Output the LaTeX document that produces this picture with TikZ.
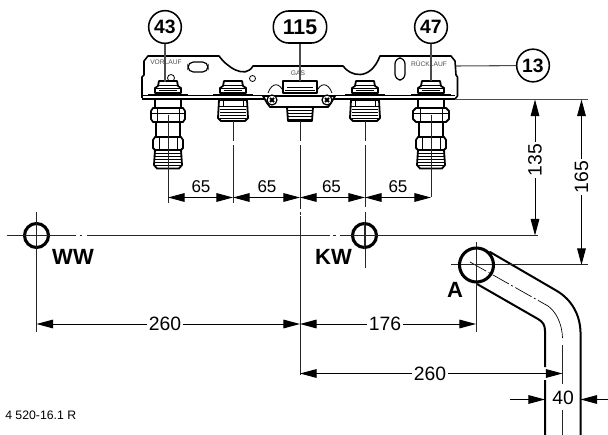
\documentclass[tikz,border=0pt]{standalone}
\usepackage{fontspec}
\setmainfont{Liberation Sans}
\usetikzlibrary{arrows.meta}
\tikzset{
  x=0.75pt,y=-0.75pt,
  part/.style={line width=1.35pt,line join=round},
  thin part/.style={line width=0.6pt},
  axis/.style={line width=0.75pt,black!85},
  leader/.style={line width=0.8pt,black!70},
  dim/.style={line width=0.75pt,{Triangle[length=12.5pt,width=6.5pt]}-{Triangle[length=12.5pt,width=6.5pt]}},
  dimr/.style={line width=0.75pt,-{Triangle[length=12.5pt,width=6.5pt]}},
  callout/.style={circle,draw,line width=1.15pt,minimum size=24.5pt,inner sep=0pt,font=\fontsize{14.5}{15}\selectfont\bfseries},
  pill/.style={rounded corners=11.5pt,draw,line width=1.15pt,minimum width=40pt,minimum height=24pt,inner sep=0pt,font=\fontsize{16}{17}\selectfont\bfseries},
  hole/.style={circle,draw,line width=2.3pt,inner sep=0pt},
  dimtext/.style={font=\fontsize{14.5}{15}\selectfont,inner sep=1.5pt},
  smalldim/.style={font=\fontsize{12.8}{14}\selectfont,inner sep=0pt},
  tag/.style={font=\fontsize{16.5}{17}\selectfont\bfseries,inner sep=0pt},
  platetext/.style={font=\fontsize{5}{6}\selectfont,text=black!70,inner sep=0pt},
}
\newcommand{\threadlines}[4]{% x, y1, y2, half width
  \foreach \yy in {#2,...,#3}{\draw[thin part] (#1-#4,\yy)--(#1+#4,\yy);}}
\newcommand{\topnut}[1]{%
  \draw[part,fill=white] (#1-9,81)--(#1+9,81)--(#1+10,86)--(#1+13,88)--(#1+13,93)--(#1-13,93)--(#1-13,88)--(#1-10,86)--cycle;
  \draw[thin part] (#1-9,85)--(#1+9,85) (#1-12,88)--(#1+12,88) (#1-9,90)--(#1+9,90);
  \draw[part] (#1-20,94.5)--(#1+20,94.5);}
\begin{document}
\begin{tikzpicture}
\useasboundingbox (0,0) rectangle (608,435);
% plate
\draw[part,line width=1.2pt] (142,98) -- (142,77) -- (144,75) -- (144,61) -- (148,56) -- (219,56)
  .. controls (226,66) and (245,80) .. (253,66) -- (343,66)
  .. controls (350,76) and (370,82) .. (380,56) -- (451,56) -- (455,61) -- (456,75) -- (457.5,77) -- (457.5,96)
  -- (455,99) -- (142,99);
\draw[line width=0.9pt] (142,95.5) -- (455,95.5);
\draw[line width=0.9pt,rounded corners=4pt] (188,62) rectangle (208,72);
\draw[line width=0.9pt,rounded corners=4.5pt] (395,58) rectangle (405,80);
\draw[line width=0.6pt] (171,78) circle (3.5);
\draw[line width=0.6pt] (252.5,78.5) circle (3);
\node[platetext] at (166,62.5) {VORLAUF};
\node[platetext] at (429,64) {RÜCKLAUF};
\node[platetext] at (298,73.5) {GAS};
% left long fitting
\topnut{168}
\draw[part,fill=white] (155,99)--(181,99)--(181,108)--(155,108)--cycle;
\draw[part,fill=white] (153,108)--(183,108)--(185,111)--(185,119)--(183,122)--(153,122)--(151,119)--(151,111)--cycle;
\draw[thin part] (157,108)--(157,122) (179,108)--(179,122) (152,113)--(184,113);
\draw[part,fill=white] (156,122)--(180,122)--(180,137)--(156,137)--cycle;
\draw[part,fill=white] (155,137)--(181,137)--(183,140)--(183,148)--(181,150)--(155,150)--(153,148)--(153,140)--cycle;
\draw[thin part] (159,137)--(159,150) (177,137)--(177,150);
\draw[part,fill=white] (155,150)--(181,150)--(182,165)--(179,168.5)--(157,168.5)--(154,165)--cycle;
\threadlines{168}{153,156}{165}{13}
% right long fitting
\topnut{431}
\draw[part,fill=white] (418,99)--(444,99)--(444,108)--(418,108)--cycle;
\draw[part,fill=white] (416,108)--(446,108)--(449,111)--(449,119)--(446,122)--(416,122)--(413,119)--(413,111)--cycle;
\draw[thin part] (420,108)--(420,122) (442,108)--(442,122) (414,113)--(448,113);
\draw[part,fill=white] (419,122)--(443,122)--(443,137)--(419,137)--cycle;
\draw[part,fill=white] (418,137)--(444,137)--(446,140)--(446,148)--(444,150)--(418,150)--(416,148)--(416,140)--cycle;
\draw[thin part] (422,137)--(422,150) (440,137)--(440,150);
\draw[part,fill=white] (418,150)--(444,150)--(445,165)--(442,168.5)--(420,168.5)--(417,165)--cycle;
\threadlines{431}{153,156}{165}{13}
% short fittings
\topnut{233}
\draw[part,fill=white] (219,100)--(247,100)--(248,118)--(245,121)--(221,121)--(218,118)--cycle;
\draw[thin part] (223,100)--(223,106) (243,100)--(243,106) (219,106)--(247,106);
\threadlines{233}{109,112}{118}{13}
\topnut{365}
\draw[part,fill=white] (351,100)--(379,100)--(380,118)--(377,121)--(353,121)--(350,118)--cycle;
\draw[thin part] (355,100)--(355,106) (375,100)--(375,106) (351,106)--(379,106);
\threadlines{365}{109,112}{118}{13}
% gas fitting
\draw[line width=0.6pt] (268,93) .. controls (272,82) and (280,82) .. (284,93);
\draw[line width=0.6pt] (316,93) .. controls (320,82) and (328,82) .. (332,93);
\draw[part,fill=white] (283,81)--(317,81)--(317,93)--(283,93)--cycle;
\draw[thin part] (287,87)--(313,87) (285,90)--(315,90);
\draw[part,fill=white] (263,96)--(335,96)--(331,103)--(328,107)--(270,107)--(267,103)--cycle;
\draw[part,fill=white] (287,107)--(313,107)--(312,121)--(288,121)--cycle;
\threadlines{300}{110,113}{119}{12}
\foreach \sx in {272,327}{
  \draw[line width=0.9pt,fill=white] (\sx,100) circle (5);
  \draw[line width=1.5pt] (\sx-2,98)--(\sx+2,102) (\sx-2,102)--(\sx+2,98);
}
% reference line
\coordinate (refR) at (588,99.5);
\coordinate (refL) at (455,99.5);
\draw[leader] (refL) -- (refR);
% callouts
\node[callout] (c43) at (165,27) {43};
\node[pill] (c115) at (300,27) {115};
\node[callout] (c47) at (431,27) {47};
\node[callout] (c13) at (533,65.5) {13};
\coordinate (t43) at (165,82);
\coordinate (t115) at (300,81);
\coordinate (t47) at (431,81);
\coordinate (t13) at (456,66);
\draw[leader] (c43) -- (t43);
\draw[leader] (c115) -- (t115);
\draw[leader] (c47) -- (t47);
\draw[leader] (c13) -- (t13);
% holes and axes
\draw[axis] (7,235.5) -- (76,235.5) (79.5,235.5)--(82,235.5) (87,235.5) -- (330,235.5) (333,235.5)--(336,235.5) (340,235.5)--(538,235.5);
\draw[axis] (36.5,212) -- (36.5,332);
\draw[axis] (168,115) -- (168,203);
\draw[axis] (233,121) -- (233,141) (233,145)--(233,203);
\draw[axis] (300,121) -- (300,141) (300,145)--(300,209) (300,212)--(300,215) (300,216)--(300,375);
\draw[axis] (365,121) -- (365,141) (365,145)--(365,207) (365,212)--(365,268);
\draw[axis] (431,115) -- (431,197);
\node[hole,minimum size=18pt] (ww) at (36.5,235.5) {};
\node[hole,minimum size=18pt] (kw) at (364.5,235.5) {};
\draw[axis] (ww.west) -- (ww.east) (ww.north) -- (ww.south);
\draw[axis] (kw.west) -- (kw.east) (kw.north) -- (kw.south);
\node[tag] at (73,256.5) {WW};
\node[tag] at (333.5,256.5) {KW};
% pipe
\draw[line width=1.5pt,line cap=round] (490,252) -- (557,291) .. controls (572,300) and (580,315) .. (580.5,332) -- (580.5,435);
\draw[line width=1.5pt] (477,284) -- (538,319) .. controls (543,322) and (545,325) .. (545,331) -- (545,367) (545,380) -- (545,435);
\draw[line width=0.5pt,dash pattern=on 14pt off 2pt on 1.5pt off 2pt] (470,262) -- (548,306);
\draw[line width=0.5pt] (548,306) .. controls (555,311) and (562,322) .. (562.5,338);
\draw[axis] (562.5,345) -- (562.5,384) (562.5,410) -- (562.5,435);
\draw[axis] (451,265) -- (588,265);
\draw[axis] (476,242) -- (476,332);
\node[hole,minimum size=25.5pt] (a) at (476.5,265) {};
\draw[axis] (476,250) -- (476,280) (462,265)--(490,265);
\node[tag] at (455,290) {A};
% dimensions: 65 row
\coordinate (d1) at (168,197.5);
\coordinate (d2) at (233,197.5);
\coordinate (d3) at (300,197.5);
\coordinate (d4) at (365,197.5);
\coordinate (d5) at (431,197.5);
\draw[dim] (d1) -- (d2);
\draw[dim] (d2) -- (d3);
\draw[dim] (d3) -- (d4);
\draw[dim] (d4) -- (d5);
\node[smalldim] at (201,187) {65};
\node[smalldim] at (267,187) {65};
\node[smalldim] at (331.5,187) {65};
\node[smalldim] at (398,187) {65};
% 260 upper, 176
\coordinate (e1) at (36.5,324);
\coordinate (e2) at (300,324);
\coordinate (e3) at (476,324);
\draw[dim] (e1) -- (e2);
\draw[dim] (e2) -- (e3);
\node[dimtext,fill=white] at (165,324) {260};
\node[dimtext,fill=white] at (385,324) {176};
% 260 lower
\coordinate (f1) at (300,373.5);
\coordinate (f2) at (562.5,373.5);
\draw[dim] (f1) -- (f2);
\node[dimtext,fill=white] at (430,373.5) {260};
% 135 and 165
\coordinate (g1) at (535,235.5);
\coordinate (g2) at (535,99.5);
\coordinate (h1) at (581.5,265);
\coordinate (h2) at (581.5,99.5);
\draw[dim] (g1) -- (g2);
\draw[dim] (h1) -- (h2);
\node[dimtext,fill=white,rotate=90] at (535,160) {135};
\node[dimtext,fill=white,rotate=90] at (581.5,177) {165};
% 40
\coordinate (k1) at (510,399.5);
\coordinate (k2) at (545,399.5);
\coordinate (k3) at (608,399.5);
\coordinate (k4) at (580.5,399.5);
\draw[dimr] (k1) -- (k2);
\draw[dimr] (k3) -- (k4);
\node[dimtext] at (563,397.5) {40};
% footer
\node[anchor=west,inner sep=0pt,font=\fontsize{9.2}{10}\selectfont] at (5,415.5) {4 520-16.1 R};
\end{tikzpicture}
\end{document}
